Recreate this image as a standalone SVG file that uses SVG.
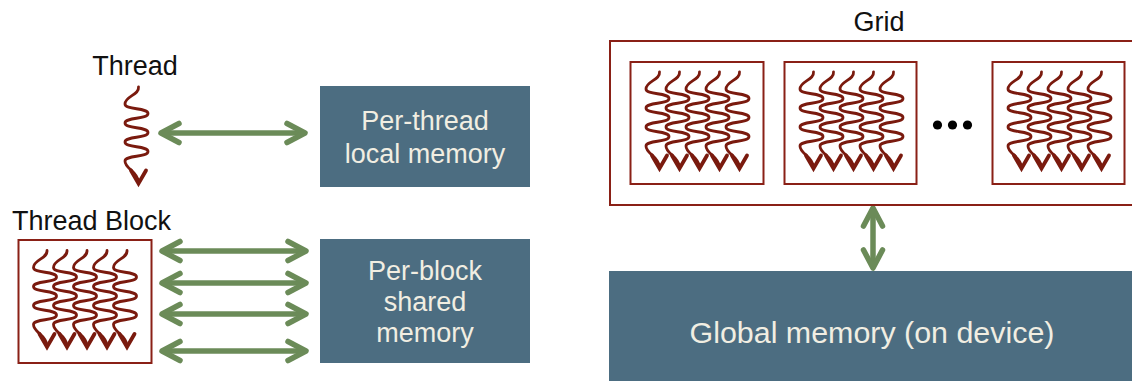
<svg xmlns="http://www.w3.org/2000/svg" width="1132" height="381" viewBox="0 0 1132 381">
<style>
.lbl{font-family:"Liberation Sans",Arial,sans-serif;font-size:27px;fill:#111}
.btxt{font-family:"Liberation Sans",Arial,sans-serif;font-size:27px;fill:#f1eee2;text-anchor:middle}
.box{fill:#4c6d81}
.frame{fill:none;stroke:#8a2016;stroke-width:2}
.thr{fill:none;stroke:#7a1a0e;stroke-width:2.8;stroke-linecap:round}
.thrh{fill:none;stroke:#7a1a0e;stroke-width:3.8;stroke-linecap:round;stroke-linejoin:miter}
.conn{fill:none;stroke:#6b8b58;stroke-width:5.5;marker-start:url(#chev);marker-end:url(#chev)}
</style>
<defs>
<marker id="chev" markerUnits="userSpaceOnUse" orient="auto-start-reverse" refX="0" refY="0" markerWidth="40" markerHeight="40" overflow="visible">
<path d="M-18,-9.5 L0,0 L-18,9.5" fill="none" stroke="#6b8b58" stroke-width="5.5" stroke-linecap="round" stroke-linejoin="round"/>
</marker>
<g id="thr">
<path class="thr" d="M0,0 C1,8 -13.5,9 -13.5,17 C-13.5,23 9.5,20.5 9.5,26.5 C9.5,32.5 -13.5,30 -13.5,36 C-13.5,42 9.5,39.5 9.5,45.5 C9.5,51.5 -13.5,49 -13.5,55 C-13.5,61 9.5,58.5 9.5,64.5 C9.5,70.5 -13.5,68 -13.5,74 C-13.5,82 -1,84 0,95"/>
<path class="thrh" d="M-7.5,83.5 L0,96.5 L7.5,83.5"/>
</g>
</defs>

<g id="connectors">
<path class="conn" d="M161,133 L305,133"/>
<path class="conn" d="M162,251 L306,251"/>
<path class="conn" d="M162,283 L306,283"/>
<path class="conn" d="M162,314 L306,314"/>
<path class="conn" d="M162,351 L306,351"/>
<path class="conn" d="M873,208 L873,268"/>
</g>

<g id="thread">
<text class="lbl" x="135" y="75" text-anchor="middle">Thread</text>
<use href="#thr" x="138.5" y="87"/>
</g>

<g id="thread-block">
<text class="lbl" x="12" y="230">Thread Block</text>
<rect class="frame" x="18.5" y="240" width="133" height="123"/>
<use href="#thr" x="47" y="250.5"/>
<use href="#thr" x="67" y="250.5"/>
<use href="#thr" x="87" y="250.5"/>
<use href="#thr" x="107" y="250.5"/>
<use href="#thr" x="127" y="250.5"/>
</g>

<g id="per-thread-local">
<rect class="box" x="320" y="86" width="210" height="101"/>
<text class="btxt" x="425" y="130">Per-thread</text>
<text class="btxt" x="425" y="163">local memory</text>
</g>

<g id="per-block-shared">
<rect class="box" x="320" y="239" width="210" height="124"/>
<text class="btxt" x="425" y="280">Per-block</text>
<text class="btxt" x="425" y="311">shared</text>
<text class="btxt" x="425" y="342">memory</text>
</g>

<g id="grid">
<text class="lbl" x="879" y="31" text-anchor="middle">Grid</text>
<rect class="frame" x="610" y="41" width="540" height="164"/>
<g id="grid-block-1">
<rect class="frame" x="630.5" y="62" width="133" height="122"/>
<use href="#thr" x="659.5" y="72"/>
<use href="#thr" x="679.5" y="72"/>
<use href="#thr" x="699.5" y="72"/>
<use href="#thr" x="719.5" y="72"/>
<use href="#thr" x="739.5" y="72"/>
</g>
<g id="grid-block-2">
<rect class="frame" x="784.5" y="62" width="132" height="122"/>
<use href="#thr" x="813.5" y="72"/>
<use href="#thr" x="833.5" y="72"/>
<use href="#thr" x="853.5" y="72"/>
<use href="#thr" x="873.5" y="72"/>
<use href="#thr" x="893.5" y="72"/>
</g>
<g id="ellipsis" fill="#000">
<circle cx="937.5" cy="125" r="4.6"/>
<circle cx="952.5" cy="125" r="4.6"/>
<circle cx="967.5" cy="125" r="4.6"/>
</g>
<g id="grid-block-n">
<rect class="frame" x="992.5" y="62" width="132" height="122"/>
<use href="#thr" x="1021.5" y="72"/>
<use href="#thr" x="1041.5" y="72"/>
<use href="#thr" x="1061.5" y="72"/>
<use href="#thr" x="1081.5" y="72"/>
<use href="#thr" x="1101.5" y="72"/>
</g>
</g>

<g id="global-memory">
<rect class="box" x="609" y="271" width="530" height="115"/>
<text class="btxt" x="872" y="343" style="font-size:30.4px">Global memory (on device)</text>
</g>
</svg>
